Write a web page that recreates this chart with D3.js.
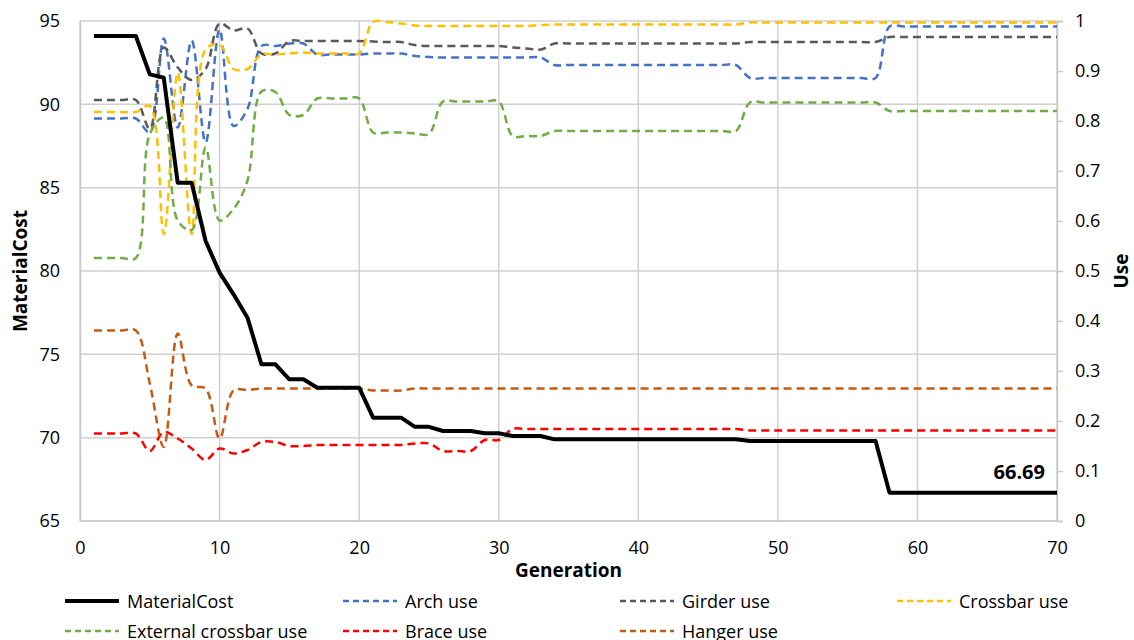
<!DOCTYPE html>
<html>
<head>
<meta charset="utf-8">
<script src="https://cdn.jsdelivr.net/npm/d3@7"></script>
<style>
  body { margin: 0; background: #fff; }
  svg text { font-family: "Open Sans", sans-serif; fill: #000; }
</style>
</head>
<body>
<svg id="chart" width="1134" height="640"></svg>
<script>
// generations 1..70
var generations = d3.range(1, 71);

var materialCost = [
  94.1, 94.1, 94.1, 94.1, 91.8, 91.6, 85.3, 85.3, 81.8, 79.9,
  78.6, 77.2, 74.4, 74.4, 73.5, 73.5, 73.0, 73.0, 73.0, 73.0,
  71.2, 71.2, 71.2, 70.65, 70.65, 70.4, 70.4, 70.4, 70.27, 70.27,
  70.1, 70.1, 70.1, 69.9, 69.9, 69.9, 69.9, 69.9, 69.9, 69.9,
  69.9, 69.9, 69.9, 69.9, 69.9, 69.9, 69.9, 69.8, 69.8, 69.8,
  69.8, 69.8, 69.8, 69.8, 69.8, 69.8, 69.8, 66.69, 66.69, 66.69,
  66.69, 66.69, 66.69, 66.69, 66.69, 66.69, 66.69, 66.69, 66.69, 66.69
];
var archUse = [
  .805, .805, .805, .805, .777, .965, .787, .961, .757, .983,
  .79, .824, .95, .95, .955, .955, .933, .933, .933, .933,
  .935, .935, .935, .93, .928, .927, .927, .927, .927, .927,
  .927, .927, .927, .912, .912, .912, .912, .912, .912, .912,
  .912, .912, .912, .912, .912, .912, .912, .886, .886, .886,
  .886, .886, .886, .886, .886, .886, .886, .989, .989, .989,
  .989, .989, .989, .989, .989, .989, .989, .989, .989, .989
];
var girderUse = [
  .842, .842, .842, .842, .784, .947, .907, .882, .904, .995,
  .981, .985, .935, .935, .96, .96, .96, .96, .96, .96,
  .959, .958, .958, .952, .95, .95, .95, .95, .95, .95,
  .947, .945, .943, .955, .955, .955, .955, .955, .955, .955,
  .955, .955, .955, .955, .955, .955, .955, .958, .958, .958,
  .958, .958, .958, .958, .958, .958, .958, .968, .968, .968,
  .968, .968, .968, .968, .968, .968, .968, .968, .968, .968
];
var crossbarUse = [
  .818, .818, .818, .818, .83, .574, .897, .574, .943, .953,
  .904, .904, .933, .933, .935, .937, .935, .935, .935, .935,
  .998, .998, .995, .991, .99, .99, .99, .99, .99, .99,
  .99, .99, .992, .993, .993, .993, .993, .993, .993, .993,
  .993, .993, .993, .993, .993, .993, .993, .997, .997, .997,
  .997, .997, .997, .997, .997, .997, .997, .997, .997, .997,
  .997, .997, .997, .997, .997, .997, .997, .997, .997, .997
];
var extCrossbarUse = [
  .526, .526, .526, .526, .774, .807, .601, .582, .747, .601,
  .624, .681, .859, .858, .812, .812, .845, .845, .845, .845,
  .777, .777, .777, .775, .774, .839, .839, .839, .839, .839,
  .77, .77, .77, .78, .78, .78, .78, .78, .78, .78,
  .78, .78, .78, .78, .78, .78, .78, .837, .837, .837,
  .837, .837, .837, .837, .837, .837, .837, .82, .82, .82,
  .82, .82, .82, .82, .82, .82, .82, .82, .82, .82
];
var braceUse = [
  .175, .175, .175, .175, .14, .178, .165, .145, .122, .145,
  .135, .142, .158, .158, .15, .15, .152, .152, .152, .152,
  .152, .152, .152, .155, .155, .14, .14, .14, .162, .162,
  .184, .184, .184, .184, .184, .184, .184, .184, .184, .184,
  .184, .184, .184, .184, .184, .184, .184, .181, .181, .181,
  .181, .181, .181, .181, .181, .181, .181, .181, .181, .181,
  .181, .181, .181, .181, .181, .181, .181, .181, .181, .181
];
var hangerUse = [
  .381, .381, .381, .381, .275, .148, .375, .271, .265, .165,
  .261, .262, .265, .265, .265, .265, .265, .265, .265, .265,
  .261, .261, .261, .265, .265, .265, .265, .265, .265, .265,
  .265, .265, .265, .265, .265, .265, .265, .265, .265, .265,
  .265, .265, .265, .265, .265, .265, .265, .265, .265, .265,
  .265, .265, .265, .265, .265, .265, .265, .265, .265, .265,
  .265, .265, .265, .265, .265, .265, .265, .265, .265, .265
];

var xTicks = [0, 10, 20, 30, 40, 50, 60, 70];
var leftTicks = [65, 70, 75, 80, 85, 90, 95];
var rightTicks = [0, 0.1, 0.2, 0.3, 0.4, 0.5, 0.6, 0.7, 0.8, 0.9, 1];

var useSeries = [
  {name: "Arch use", values: archUse, color: "#4472C4"},
  {name: "Girder use", values: girderUse, color: "#595959"},
  {name: "Crossbar use", values: crossbarUse, color: "#FFC000"},
  {name: "External crossbar use", values: extCrossbarUse, color: "#70AD47"},
  {name: "Brace use", values: braceUse, color: "#FF0000"},
  {name: "Hanger use", values: hangerUse, color: "#C55A11"}
];

(function() {
  var svg = d3.select("#chart");
  var pLeft = 80, pRight = 1057, pTop = 21, pBottom = 521;

  var x = d3.scaleLinear().domain([0, 70]).range([pLeft, pRight]);
  var yL = d3.scaleLinear().domain([65, 95]).range([pBottom, pTop]);
  var yR = d3.scaleLinear().domain([0, 1]).range([pBottom, pTop]);

  // gridlines
  var grid = svg.append("g").attr("stroke", "#d0d0d0").attr("stroke-width", 1.5);
  grid.selectAll("line.v").data(xTicks).enter().append("line")
    .attr("x1", function(d) { return x(d); }).attr("x2", function(d) { return x(d); })
    .attr("y1", pTop).attr("y2", pBottom);
  grid.selectAll("line.h").data(leftTicks).enter().append("line")
    .attr("x1", pLeft).attr("x2", pRight)
    .attr("y1", function(d) { return yL(d); }).attr("y2", function(d) { return yL(d); });

  // axes
  var xAxis = svg.append("g").attr("transform", "translate(0," + pBottom + ")")
    .call(d3.axisBottom(x).tickValues(xTicks).tickSize(0).tickPadding(20));
  var lAxis = svg.append("g").attr("transform", "translate(" + pLeft + ",0)")
    .call(d3.axisLeft(yL).tickValues(leftTicks).tickSize(0).tickPadding(20));
  var rAxis = svg.append("g").attr("transform", "translate(" + pRight + ",0)")
    .call(d3.axisRight(yR).tickValues(rightTicks).tickSize(6).tickPadding(12)
      .tickFormat(function(d) { return d3.format("~g")(d); }));

  [xAxis, lAxis, rAxis].forEach(function(a) {
    a.select(".domain").attr("stroke", "#c8c8c8").attr("stroke-width", 1.5);
    a.selectAll(".tick line").attr("stroke", "#c8c8c8").attr("stroke-width", 1.5);
    a.selectAll("text").attr("font-size", 18).attr("font-family", "Open Sans, sans-serif");
  });
  xAxis.select(".domain").remove();
  svg.append("line").attr("x1", pLeft).attr("x2", pRight).attr("y1", pBottom).attr("y2", pBottom)
    .attr("stroke", "#c8c8c8").attr("stroke-width", 1.5);

  // use lines
  var useLine = d3.line()
    .x(function(d, i) { return x(generations[i]); })
    .y(function(d) { return yR(d); })
    .curve(d3.curveCatmullRom.alpha(0.5));

  svg.selectAll("path.use").data(useSeries).enter().append("path")
    .attr("class", "use")
    .attr("fill", "none")
    .attr("stroke", function(d) { return d.color; })
    .attr("stroke-width", 2.5)
    .attr("stroke-dasharray", "8,5")
    .attr("d", function(d) { return useLine(d.values); });

  // material cost
  var costLine = d3.line()
    .x(function(d, i) { return x(generations[i]); })
    .y(function(d) { return yL(d); });

  svg.append("path").datum(materialCost)
    .attr("fill", "none").attr("stroke", "#000").attr("stroke-width", 4)
    .attr("stroke-linejoin", "round")
    .attr("d", costLine);

  // data label for last point
  svg.append("text")
    .attr("x", x(70) - 12).attr("y", yL(materialCost[69]) - 14)
    .attr("text-anchor", "end").attr("font-size", 20).attr("font-weight", "bold")
    .text(d3.format(".2f")(materialCost[69]));

  // axis titles
  svg.append("text").attr("x", x(35)).attr("y", 577).attr("text-anchor", "middle")
    .attr("font-size", 19).attr("font-weight", "bold").text("Generation");
  svg.append("text").attr("transform", "translate(27," + ((pTop + pBottom) / 2) + ") rotate(-90)")
    .attr("text-anchor", "middle").attr("font-size", 19).attr("font-weight", "bold").text("MaterialCost");
  svg.append("text").attr("transform", "translate(1128," + ((pTop + pBottom) / 2) + ") rotate(-90)")
    .attr("text-anchor", "middle").attr("font-size", 19).attr("font-weight", "bold").text("Use");

  // legend
  var legendItems = [
    {name: "MaterialCost", color: "#000", width: 4, dash: null, col: 0, row: 0},
    {name: "Arch use", color: "#4472C4", width: 2.5, dash: "6,4", col: 1, row: 0},
    {name: "Girder use", color: "#595959", width: 2.5, dash: "6,4", col: 2, row: 0},
    {name: "Crossbar use", color: "#FFC000", width: 2.5, dash: "6,4", col: 3, row: 0},
    {name: "External crossbar use", color: "#70AD47", width: 2.5, dash: "6,4", col: 0, row: 1},
    {name: "Brace use", color: "#FF0000", width: 2.5, dash: "6,4", col: 1, row: 1},
    {name: "Hanger use", color: "#C55A11", width: 2.5, dash: "6,4", col: 2, row: 1}
  ];
  var colX = [65, 343, 620, 897];
  var rowY = [601, 631];

  var lg = svg.selectAll("g.legend").data(legendItems).enter().append("g")
    .attr("class", "legend")
    .attr("transform", function(d) { return "translate(" + colX[d.col] + "," + rowY[d.row] + ")"; });
  lg.append("line").attr("x1", 0).attr("x2", 54).attr("y1", 0).attr("y2", 0)
    .attr("stroke", function(d) { return d.color; })
    .attr("stroke-width", function(d) { return d.width; })
    .attr("stroke-dasharray", function(d) { return d.dash; });
  lg.append("text").attr("x", 62).attr("y", 7).attr("font-size", 18)
    .text(function(d) { return d.name; });
})();
</script>
</body>
</html>
